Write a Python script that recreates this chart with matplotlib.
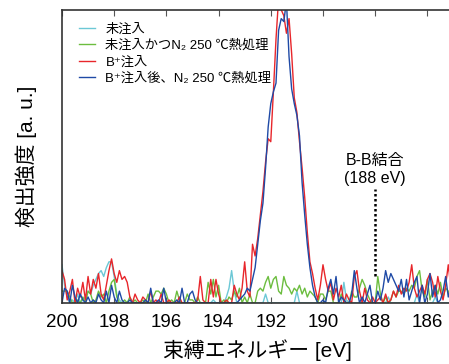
import numpy as np
import matplotlib
matplotlib.use("Agg")
import matplotlib.pyplot as plt

plt.rcParams['font.family'] = ['Liberation Sans', 'Noto Sans CJK JP', 'DejaVu Sans']

# binding energy grid, 200.0 -> 185.0 eV in 0.1 eV steps
energy = np.round(np.arange(200.0, 184.95, -0.1), 1)

labels = ["未注入", "未注入かつN₂ 250 ℃熱処理", "B⁺注入", "B⁺注入後、N₂ 250 ℃熱処理"]
colors = ["#6cc8d6", "#6cbd3f", "#e8262b", "#1f4aa6"]

# intensities (a.u., 0-100 = plot height)
untreated = [
    13, 6, 2, 0, 1, 0, 3, 0, 1, 2,
    4, 3, 6, 8, 10, 11, 9, 12, 14, 14,
    9, 3, 1, 0, 0, 0, 0, 0, 0, 0,
    0, 0, 0, 0, 0, 0, 0, 0, 0, 0,
    0, 0, 0, 0, 0, 0, 0, 0, 0, 0,
    0, 0, 0, 0, 0, 0, 0, 0, 1, 0,
    0, 0, 0, 2, 5, 11, 4, 0, 0, 0,
    0, 0, 0, 0, 0, 0, 0, 0, 3, 0,
    0, 0, 0, 0, 0, 0, 0, 0, 0, 0,
    4, 0, 0, 0, 0, 0, 0, 0, 0, 0,
    0, 0, 0, 0, 0, 0, 0, 0, 7, 1,
    0, 0, 0, 0, 0, 0, 0, 0, 0, 0,
    0, 0, 0, 0, 0, 2, 0, 0, 0, 0,
    0, 0, 0, 0, 0, 0, 3, 0, 0, 0,
    0, 0, 0, 2, 0, 0, 0, 0, 0, 0,
    0,
]
untreated_n2 = [
    4, 4, 4, 2, 0, 0, 1, 0, 2, 0,
    4, 3, 0, 1, 4, 2, 3, 0, 4, 7,
    8, 2, 0, 0, 1, 0, 2, 0, 1, 0,
    0, 1, 0, 3, 0, 2, 4, 4, 3, 5,
    3, 0, 1, 0, 4, 1, 0, 0, 3, 1,
    1, 0, 2, 0, 0, 0, 7, 3, 8, 2,
    6, 0, 1, 0, 2, 1, 4, 2, 5, 0,
    2, 0, 3, 0, 0, 4, 5, 4, 7, 9,
    5, 8, 9, 4, 3, 9, 6, 5, 3, 5,
    4, 6, 3, 5, 2, 4, 3, 2, 0, 3,
    3, 1, 4, 4, 0, 0, 0, 3, 1, 0,
    0, 4, 2, 2, 5, 8, 6, 3, 1, 0,
    0, 9, 3, 0, 2, 0, 1, 4, 2, 4,
    4, 3, 5, 4, 6, 5, 9, 11, 4, 2,
    8, 1, 4, 6, 3, 7, 2, 5, 4, 1,
    3,
]
b_implanted = [
    11, 8, 1, 4, 8, 0, 5, 2, 7, 1,
    9, 3, 8, 5, 10, 3, 1, 6, 11, 15,
    10, 7, 11, 8, 9, 7, 2, 0, 3, 1,
    0, 2, 1, 0, 4, 0, 1, 0, 3, 0,
    0, 1, 0, 0, 0, 2, 0, 0, 0, 0,
    0, 0, 1, 9, 1, 0, 0, 8, 2, 8,
    3, 0, 0, 1, 0, 0, 6, 3, 1, 5,
    14, 4, 2, 20, 16, 22, 30, 38, 48, 56,
    55, 72, 90, 104, 100, 98, 92, 97, 85, 70,
    65, 55, 46, 36, 24, 14, 10, 5, 1, 6,
    13, 8, 4, 7, 1, 5, 2, 6, 0, 3,
    1, 0, 9, 11, 4, 0, 5, 1, 0, 2,
    0, 1, 2, 0, 3, 0, 1, 4, 2, 6,
    3, 5, 4, 7, 13, 5, 2, 4, 6, 3,
    8, 10, 7, 2, 9, 4, 1, 6, 13, 5,
    3,
]
b_implanted_n2 = [
    0, 5, 4, 0, 6, 2, 0, 3, 1, 0,
    2, 0, 1, 0, 3, 1, 0, 4, 0, 6,
    2, 0, 4, 1, 0, 0, 1, 0, 0, 0,
    0, 0, 1, 0, 5, 0, 0, 1, 0, 5,
    0, 0, 0, 0, 1, 0, 5, 0, 0, 3,
    4, 1, 0, 0, 0, 0, 0, 0, 0, 0,
    0, 0, 0, 0, 0, 0, 0, 0, 1, 2,
    3, 5, 4, 8, 12, 20, 28, 34, 46, 60,
    68, 72, 75, 93, 97, 96, 103, 84, 73, 68,
    64, 57, 41, 30, 20, 12, 6, 2, 0, 0,
    1, 0, 5, 8, 3, 9, 0, 2, 1, 0,
    0, 3, 11, 5, 0, 2, 0, 3, 6, 0,
    0, 4, 1, 5, 11, 7, 10, 8, 6, 4,
    8, 2, 8, 1, 4, 7, 9, 0, 6, 0,
    3, 10, 2, 6, 0, 1, 4, 9, 2, 5,
    3,
]
series = [untreated, untreated_n2, b_implanted, b_implanted_n2]

bond_energy = 188
bond_text = "B-B結合\n(188 eV)"
xticks = [200, 198, 196, 194, 192, 190, 188, 186]


def main():
    fig = plt.figure(figsize=(4.49, 3.64), dpi=100)
    ax = fig.add_axes([0.138, 0.168, 0.872, 0.805])

    for ys, lab, c in zip(series, labels, colors):
        ax.plot(energy, ys, color=c, lw=1.0, label=lab)

    ax.plot([bond_energy, bond_energy], [9, 39], color="black", lw=1.8, ls=(0, (1, 1)))
    ax.text(bond_energy, 40, bond_text, ha="center", va="bottom", fontsize=11.5,
            linespacing=1.25)

    ax.set_xlim(200, 185)
    ax.set_ylim(0, 100)
    ax.set_xticks(xticks)
    ax.set_yticks([])
    ax.tick_params(axis="x", direction="in", top=True, labelsize=13.5, pad=8,
                   length=4, color="#555555")
    for s in ["left", "bottom", "top", "right"]:
        ax.spines[s].set_linewidth(1.2)
        ax.spines[s].set_color("#333333")

    ax.set_xlabel("束縛エネルギー [eV]", fontsize=15, labelpad=6)
    ax.set_ylabel("検出強度 [a. u.]", fontsize=15, labelpad=18)

    ax.legend(loc="upper left", frameon=False, fontsize=9.5, handlelength=1.2,
              handletextpad=0.8, labelspacing=0.3, borderaxespad=0.3,
              bbox_to_anchor=(0.02, 0.985))

    fig.savefig("out.png", dpi=100)


if __name__ == "__main__":
    main()
